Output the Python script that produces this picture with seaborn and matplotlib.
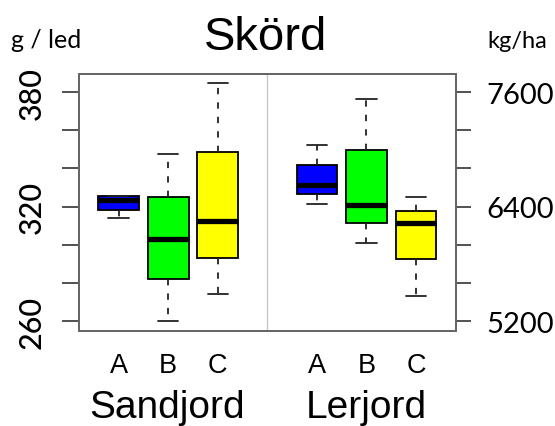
import numpy as np
import pandas as pd
import matplotlib
matplotlib.use("Agg")
import matplotlib.pyplot as plt
import seaborn as sns

# ---- data (g / led) ----
soils = ["Sandjord", "Sandjord", "Sandjord", "Lerjord", "Lerjord", "Lerjord"]
varieties = ["A", "B", "C", "A", "B", "C"]
lo_whisk = [314.3, 260.0, 274.3, 321.2, 301.2, 273.4]
q1 = [318.5, 282.0, 293.3, 326.6, 311.6, 292.4]
median = [323.7, 303.1, 312.7, 331.3, 321.0, 311.6]
q3 = [325.5, 324.9, 348.6, 341.8, 349.6, 317.9]
hi_whisk = [325.5, 347.6, 384.7, 352.3, 376.3, 325.1]
slot = [1, 2, 3, 5, 6, 7]

left_ticks = [260, 280, 300, 320, 340, 360, 380]
left_labels = ["260", "", "", "320", "", "", "380"]
right_ticks = [5200, 5600, 6000, 6400, 6800, 7200, 7600]
right_labels = ["5200", "", "", "6400", "", "", "7600"]
kg_per_g = 20

rows = []
for s, v, p, a, b, c, d, e in zip(soils, varieties, slot, lo_whisk, q1, median, q3, hi_whisk):
    for val in (a, b, c, d, e):
        rows.append({"soil": s, "variety": v, "pos": p, "yield": val})
df = pd.DataFrame(rows)

palette = {"A": "#0000FF", "B": "#00FF00", "C": "#FFFF00"}

sns.set_style("white")
plt.rcParams["font.family"] = ["Liberation Sans", "DejaVu Sans"]
plt.rcParams["text.color"] = "black"
plt.rcParams["xtick.labelcolor"] = "black"
plt.rcParams["ytick.labelcolor"] = "black"

fig = plt.figure(figsize=(5.55, 4.27), dpi=100)
ax = fig.add_axes([79/555, 1-331.7/427, (455.7-79)/555, (331.7-74.7)/427])

sns.boxplot(data=df, x="pos", y="yield", hue="variety", palette=palette,
            native_scale=True, dodge=False, width=0.82, whis=(0, 100),
            saturation=1, linecolor="black", linewidth=1.3, legend=False,
            ax=ax,
            whiskerprops={"linestyle": (0, (3.5, 4.5)), "color": "#222222"},
            capprops={"color": "#222222"},
            medianprops={"linewidth": 3.8, "color": "black"})

ylo, yhi = 255.1, 389.6
ax.set_ylim(ylo, yhi)
ax.set_xlim(0.2, 7.8)
ax.axvline(4, color="#c8c8c8", lw=1.0, zorder=0)

ax.set_xlabel("")
ax.set_ylabel("")
ax.set_xticks(slot)
ax.set_xticklabels(varieties, fontsize=19.5, color="black")
ax.set_yticks(left_ticks)
ax.set_yticklabels(left_labels, fontsize=22, rotation=90, va="center",
                   family=["Lato", "DejaVu Sans"], color="black", weight="medium")
ax.tick_params(axis="x", length=11, width=1.2, color="#333333", pad=4.5, direction="out")
ax.tick_params(axis="y", length=12, width=1.2, color="#333333", pad=12, direction="out")
for sp in ax.spines.values():
    sp.set_visible(True)
    sp.set_color("#666666")
    sp.set_linewidth(1.4)

ax2 = ax.twinx()
ax2.set_ylim(ylo * kg_per_g, yhi * kg_per_g)
ax2.set_yticks(right_ticks)
ax2.set_yticklabels(right_labels, fontsize=21, family=["Lato", "DejaVu Sans"], color="black")
ax2.tick_params(axis="y", length=11, width=1.2, color="#333333", pad=11, direction="out")
for sp in ax2.spines.values():
    sp.set_color("#666666")
    sp.set_linewidth(1.4)

fig.text(266/555, 1-49.6/427, "Skörd", ha="center", va="baseline", fontsize=34, color="black")
fig.text(11/555, 1-48.3/427, "g / led", ha="left", va="baseline", fontsize=18,
         family=["Lato", "DejaVu Sans"], color="black")
fig.text(487/555, 1-48.3/427, "kg/ha", ha="left", va="baseline", fontsize=17,
         family=["Lato", "DejaVu Sans"], color="black")
fig.text(167/555, 1-418.5/427, "Sandjord", ha="center", va="baseline", fontsize=28, color="black")
fig.text(366/555, 1-418.5/427, "Lerjord", ha="center", va="baseline", fontsize=28, color="black")

fig.savefig("out.png", dpi=100)
